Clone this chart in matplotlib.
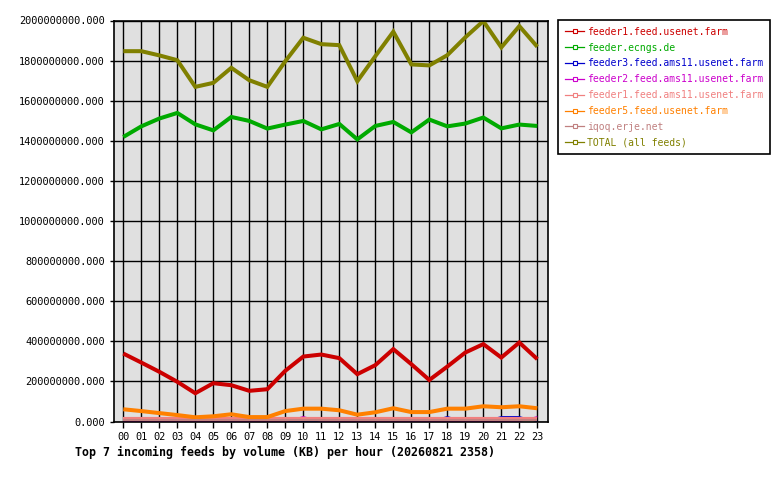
import matplotlib
matplotlib.use("Agg")
import matplotlib.pyplot as plt
from matplotlib.lines import Line2D
from matplotlib.ticker import FuncFormatter, MultipleLocator

# hourly volumes in millions of KB
hours = ["00", "01", "02", "03", "04", "05", "06", "07", "08", "09", "10", "11",
         "12", "13", "14", "15", "16", "17", "18", "19", "20", "21", "22", "23"]

feeder1_usenet = [339, 294, 248, 198, 141, 191, 181, 153, 161, 253, 324, 334,
                  316, 236, 281, 361, 286, 207, 274, 344, 386, 319, 394, 311]
ecngs = [1419, 1472, 1511, 1539, 1482, 1452, 1519, 1499, 1461, 1481, 1499, 1457,
         1484, 1407, 1474, 1494, 1442, 1506, 1472, 1486, 1516, 1462, 1481, 1474]
feeder3_ams11 = [0, 0, 0, 0, 0, 0, 0, 0, 0, 0, 0, 0,
                 0, 0, 0, 0, 0, 0, 24, 0, 0, 24, 24, 0]
feeder2_ams11 = [0, 0, 0, 0, 0, 0, 0, 0, 0, 0, 24, 0,
                 0, 0, 0, 0, 0, 0, 0, 0, 0, 0, 0, 24]
feeder1_ams11 = [12, 12, 12, 12, 12, 12, 12, 12, 12, 12, 12, 12,
                 12, 12, 12, 12, 12, 12, 12, 12, 12, 12, 12, 12]
feeder5_usenet = [61, 52, 42, 32, 21, 26, 36, 22, 22, 52, 64, 64,
                  56, 34, 46, 66, 47, 47, 64, 64, 76, 71, 76, 66]
iqoq = [5, 5, 5, 5, 5, 5, 5, 5, 5, 5, 5, 5,
        5, 5, 5, 5, 5, 5, 5, 5, 5, 5, 5, 5]
total = [1847, 1847, 1826, 1802, 1669, 1689, 1764, 1702, 1669, 1797, 1914, 1882,
         1877, 1697, 1822, 1944, 1781, 1776, 1827, 1916, 1997, 1866, 1972, 1869]

labels = ["feeder1.feed.usenet.farm", "feeder.ecngs.de", "feeder3.feed.ams11.usenet.farm",
          "feeder2.feed.ams11.usenet.farm", "feeder1.feed.ams11.usenet.farm",
          "feeder5.feed.usenet.farm", "iqoq.erje.net", "TOTAL (all feeds)"]
series = [feeder1_usenet, ecngs, feeder3_ams11, feeder2_ams11, feeder1_ams11,
          feeder5_usenet, iqoq, total]
colors = ["#cc0000", "#00aa00", "#0000cc", "#cc00cc", "#f08080",
          "#ff8000", "#c08080", "#808000"]
widths = [2.9, 2.9, 0.9, 0.9, 3.0, 2.9, 1.4, 2.9]

MONO = "DejaVu Sans Mono"

fig = plt.figure(figsize=(7.8, 4.8), dpi=100)
fig.patch.set_facecolor("white")
ax = fig.add_axes([114.3 / 780, 1 - 421.5 / 480, 434 / 780, 401 / 480])
ax.set_facecolor("#e0e0e0")

x = list(range(len(hours)))
for vals, col, lw in zip(series, colors, widths):
    ax.plot(x, [v * 1e6 for v in vals], color=col, lw=lw, solid_capstyle="butt",
            solid_joinstyle="miter")

ax.set_xlim(-0.5, 23.61)
ax.set_ylim(0, 2e9)
ax.set_xticks(x)
ax.set_xticklabels(hours, family=MONO, fontsize=7.4)
ax.yaxis.set_major_locator(MultipleLocator(2e8))
ax.yaxis.set_major_formatter(FuncFormatter(lambda v, p: "%.3f" % v))
for lab in ax.get_yticklabels():
    lab.set_family(MONO)
    lab.set_fontsize(7.4)
ax.tick_params(axis="y", length=3, width=1.0, pad=4)
ax.tick_params(axis="x", length=4.5, width=1.0, pad=3)
ax.grid(True, color="black", lw=1.0)
ax.set_axisbelow(True)
for sp in ax.spines.values():
    sp.set_linewidth(1.2)

fig.text(75 / 780, 1 - 452 / 480, "Top 7 incoming feeds by volume (KB) per hour (20260821 2358)",
         family=MONO, fontsize=8.4, fontweight="bold", va="center", ha="left")

handles = [Line2D([], [], color=c, lw=0.9, marker="s", markersize=3,
                  markerfacecolor="white", markeredgecolor=c, markeredgewidth=0.8)
           for c in colors]
leg = fig.legend(handles, labels, loc="upper left",
                 bbox_to_anchor=(558 / 780, 1 - 20 / 480), borderaxespad=0,
                 prop={"family": MONO, "size": 7.0}, labelcolor=colors,
                 frameon=True, fancybox=False, framealpha=1, edgecolor="black",
                 handlelength=2.0, handletextpad=0.25, labelspacing=0.6,
                 borderpad=0.7)
leg.get_frame().set_linewidth(1.2)

fig.savefig("out.png", dpi=100, facecolor="white")
